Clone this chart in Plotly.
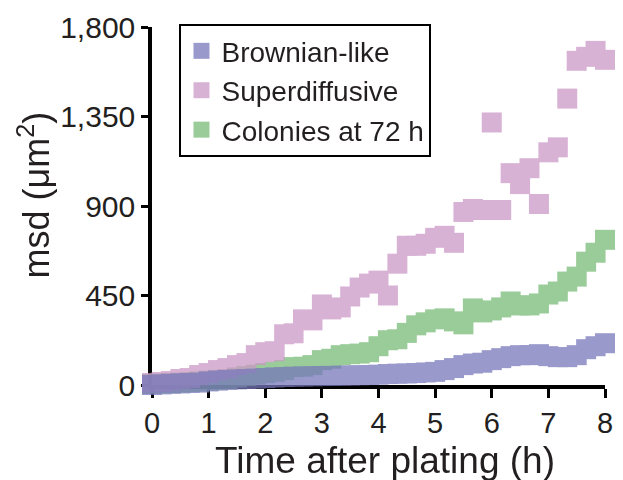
import plotly.graph_objects as go

# Sampling grid (minutes after plating, every 10 min up to 8 h)
minutes = [0, 10, 20, 30, 40, 50, 60, 70, 80, 90, 100, 110, 120, 130, 140, 150,
           160, 170, 180, 190, 200, 210, 220, 230, 240, 250, 260, 270, 280, 290,
           300, 310, 320, 330, 340, 350, 360, 370, 380, 390, 400, 410, 420, 430,
           440, 450, 460, 470, 480]
hours = [m / 60 for m in minutes]

# Mean squared displacement (um^2)
brownian = [0, 3, 6, 8, 10, 12, 18, 22, 25, 28, 30, 32, 35, 38, 40, 42, 43, 44,
            45, 46, 47, 48, 49, 50, 52, 55, 57, 58, 60, 63, 66, 75, 85, 100, 108,
            112, 125, 135, 145, 150, 150, 155, 145, 140, 140, 150, 180, 195, 210]
superdiffusive = [10, 15, 20, 30, 35, 50, 60, 75, 85, 100, 110, 150, 165, 170,
                  255, 260, 330, 325, 405, 380, 390, 445, 490, 510, 525, 450, 610,
                  700, 700, 710, 740, 750, 715, 870, 885, 880, 1320, 880, 1065,
                  1010, 1090, 910, 1170, 1195, 1440, 1630, 1650, 1680, 1635]
colonies = [5, 8, 10, 12, 15, 18, 22, 26, 30, 38, 45, 52, 60, 66, 75, 90, 92,
            100, 125, 132, 150, 155, 158, 165, 195, 225, 230, 262, 300, 315, 330,
            335, 320, 305, 385, 365, 375, 390, 420, 400, 400, 410, 455, 470, 520,
            545, 620, 665, 730]

y_ticks = [0, 450, 900, 1350, 1800]
x_ticks = [0, 1, 2, 3, 4, 5, 6, 7, 8]

FONT = "Arial, Liberation Sans, Helvetica, sans-serif"
INK = "#231f20"

# (name, values, colour, legend position); drawn bottom to top
series = [
    ("Colonies at 72 h", colonies, "rgb(119,187,119)", 3),
    ("Superdiffusive", superdiffusive, "rgb(203,152,198)", 2),
    ("Brownian-like", brownian, "rgb(119,119,187)", 1),
]

fig = go.Figure()
for name, values, colour, rank in series:
    fig.add_trace(go.Scatter(
        x=hours, y=values, name=name, mode="markers",
        marker=dict(symbol="square", size=20, color=colour, line=dict(width=0)),
        opacity=0.75, legendrank=rank, cliponaxis=False,
    ))

fig.update_layout(
    width=623, height=480,
    margin=dict(l=152, r=10, t=21, b=95),
    paper_bgcolor="white", plot_bgcolor="white",
    font=dict(family=FONT, color=INK, size=29),
    showlegend=True,
    legend=dict(
        x=0.0607, y=1.008, xanchor="left", yanchor="top",
        bordercolor="black", borderwidth=2, bgcolor="rgba(0,0,0,0)",
        font=dict(family=FONT, size=28, color=INK),
    ),
    xaxis=dict(
        range=[0, 8], tickvals=x_ticks, showgrid=False, zeroline=False,
        showline=True, linewidth=3.5, linecolor="black", layer="below traces",
        ticks="outside", ticklen=9, tickwidth=3, tickcolor="black",
        tickfont=dict(size=29),
    ),
    yaxis=dict(
        range=[0, 1800], tickvals=y_ticks, tickformat=",d", showgrid=False,
        zeroline=False, showline=True, linewidth=3.5, linecolor="black",
        layer="below traces", ticks="outside", ticklen=7, tickwidth=3,
        tickcolor="black", tickfont=dict(size=30),
    ),
    annotations=[
        dict(text="Time after plating (h)", xref="paper", yref="paper",
             x=0.515, y=-0.147, xanchor="center", yanchor="top", showarrow=False,
             font=dict(size=37, family=FONT, color=INK)),
        dict(text="msd (μm<sup>2</sup>)", xref="paper", yref="paper",
             x=-0.26, y=0.53, xanchor="center", yanchor="middle", textangle=-90,
             showarrow=False, font=dict(size=36, family=FONT, color=INK)),
    ],
)

fig.write_html("out.html")
